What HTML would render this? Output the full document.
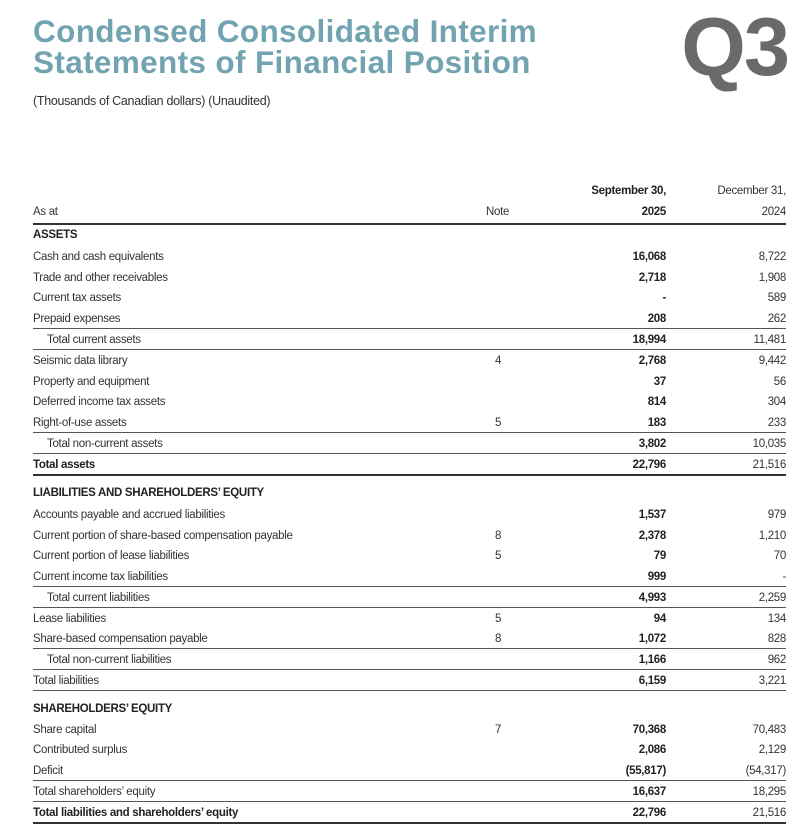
<!DOCTYPE html>
<html><head><meta charset="utf-8">
<style>
body{margin:0;width:809px;height:832px;background:#fff;position:relative;overflow:hidden;font-family:"Liberation Sans",sans-serif;color:#333}
.t{position:absolute;white-space:nowrap}
#title{left:33px;top:16px;font-size:31.5px;font-weight:bold;color:#72a3b0;line-height:31px;letter-spacing:0.35px}
#q3{right:21px;top:5px;font-size:83px;font-weight:bold;color:#6a6a6a;line-height:83px;letter-spacing:-2px}
#sub{left:33px;top:94px;font-size:12.5px;color:#333;letter-spacing:-0.3px}
.c{position:absolute;font-size:11.5px;line-height:14px;white-space:nowrap;letter-spacing:-0.3px;color:#333}
.b{font-weight:bold;color:#222}
.ln{position:absolute;left:33px;width:753px;background:#333}
</style></head><body>
<div class="t" id="title">Condensed Consolidated Interim<br>Statements of Financial Position</div>
<div class="t" id="q3">Q3</div>
<div class="t" id="sub">(Thousands of Canadian dollars) (Unaudited)</div>
<div class="c b" style="right:143px;top:184px">September 30,</div>
<div class="c" style="right:23px;top:184px">December 31,</div>
<div class="c" style="left:33px;top:205px">As at</div>
<div class="c" style="left:486px;top:205px">Note</div>
<div class="c b" style="right:143px;top:205px">2025</div>
<div class="c" style="right:23px;top:205px">2024</div>
<div class="ln" style="top:223px;height:1.5px"></div>
<div id="rows"></div>
<script>
const labels=["ASSETS","Cash and cash equivalents","Trade and other receivables","Current tax assets","Prepaid expenses","Total current assets","Seismic data library","Property and equipment","Deferred income tax assets","Right-of-use assets","Total non-current assets","Total assets","LIABILITIES AND SHAREHOLDERS’ EQUITY","Accounts payable and accrued liabilities","Current portion of share-based compensation payable","Current portion of lease liabilities","Current income tax liabilities","Total current liabilities","Lease liabilities","Share-based compensation payable","Total non-current liabilities","Total liabilities","SHAREHOLDERS’ EQUITY","Share capital","Contributed surplus","Deficit","Total shareholders’ equity","Total liabilities and shareholders’ equity"];
const notes=["","","","","","","4","","","5","","","","","8","5","","","5","8","","","","7","","","",""];
const v2025=["","16,068","2,718","-","208","18,994","2,768","37","814","183","3,802","22,796","","1,537","2,378","79","999","4,993","94","1,072","1,166","6,159","","70,368","2,086","(55,817)","16,637","22,796"];
const v2024=["","8,722","1,908","589","262","11,481","9,442","56","304","233","10,035","21,516","","979","1,210","70","-","2,259","134","828","962","3,221","","70,483","2,129","(54,317)","18,295","21,516"];
const ys=[234,256,277,297,318,339,360,381,401,422,443,464,492,514,535,555,576,597,618,638,659,680,708,729,749,770,791,812];
const indent=[5,10,17,20];
const boldLabel=[0,11,12,22,27];
const rulesBelow=[4,5,9,10,11,16,17,19,20,21,25,26,27];
const R=document.getElementById('rows');
function add(cls,style,txt,name){const d=document.createElement('div');d.className=cls;d.setAttribute('style',style);d.textContent=txt;


R.appendChild(d);}
labels.forEach((l,i)=>{const y=ys[i]-6;
 add('c'+(boldLabel.includes(i)?' b':''),'left:'+(indent.includes(i)?47:33)+'px;top:'+y+'px',l,'row-label');
 if(notes[i])add('c','left:495px;top:'+y+'px',notes[i],'row-note');
 if(v2025[i])add('c b','right:143px;top:'+y+'px',v2025[i],'value-2025');
 if(v2024[i])add('c','right:23px;top:'+y+'px',v2024[i],'value-2024');
 if(rulesBelow.includes(i)){const ln=document.createElement('div');ln.className='ln';
  const thick=(i==11||i==27)?1.5:1.2;ln.setAttribute('style','top:'+(ys[i]+10)+'px;height:'+thick+'px;background:'+(thick>1.3?'#333':'#555'));
  
  
  R.appendChild(ln);}
});
</script>
</body></html>
